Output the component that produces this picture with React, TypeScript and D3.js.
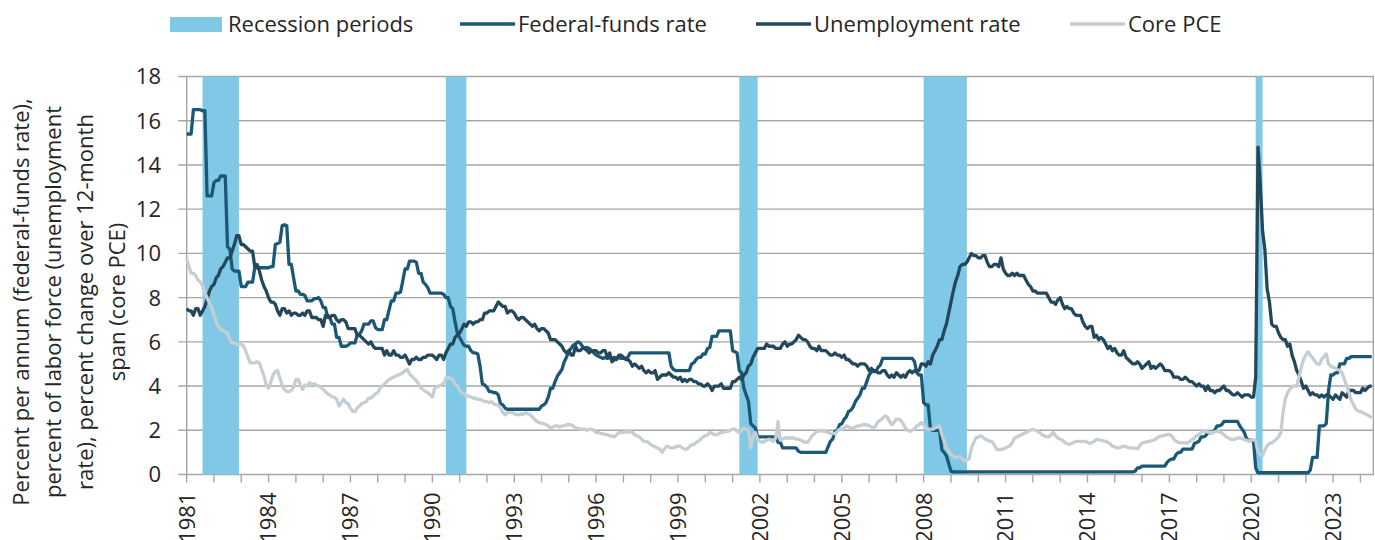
import React from "react";
import * as d3 from "d3";

const width = 1375;
const height = 540;
const plot = { left: 186.7, right: 1374, top: 76.5, bottom: 474.5 };
const font = "'Segoe UI', 'Open Sans', sans-serif";
const fontSize = 22;

const colors = {
  fed: "#1b5876",
  unemp: "#23485c",
  pce: "#c6cdd3",
  recession: "#7fc9e6",
  grid: "#a6a6a6",
  text: "#262626",
};

// monthly values, Jan 1981 .. Jun 2024
const startYear = 1981;

const fedFunds = [
  15.4, 15.4, 15.4, 16.5, 16.5, 16.5, 16.5, 16.45, 16.45, 12.6, 12.6, 12.6, // 1981
  13.2, 13.3, 13.3, 13.5, 13.5, 13.5, 10.3, 10.2, 9.3, 9.2, 9.2, 9.2, // 1982
  8.5, 8.5, 8.5, 8.7, 8.7, 8.7, 9.35, 9.35, 9.35, 9.35, 9.35, 9.35, // 1983
  9.35, 9.4, 9.4, 10.4, 10.45, 10.5, 11.25, 11.3, 11.25, 9.5, 9.5, 8.9, // 1984
  8.3, 8.3, 8.15, 8.15, 8.1, 7.85, 7.85, 7.85, 7.95, 7.95, 8.0, 7.85, // 1985
  7.55, 7.55, 7.1, 7.1, 6.8, 6.8, 6.2, 6.2, 5.8, 5.8, 5.8, 5.85, // 1986
  5.95, 5.95, 5.95, 6.3, 6.35, 6.5, 6.8, 6.8, 6.8, 6.95, 6.95, 6.65, // 1987
  6.55, 6.55, 6.55, 7.0, 7.0, 7.45, 7.85, 7.85, 8.2, 8.2, 8.25, 8.75, // 1988
  9.3, 9.3, 9.65, 9.65, 9.65, 9.6, 9.1, 9.1, 8.7, 8.6, 8.45, 8.2, // 1989
  8.2, 8.2, 8.2, 8.2, 8.2, 8.15, 8.0, 8.0, 7.6, 7.5, 6.9, 6.4, // 1990
  6.2, 6.0, 5.85, 5.8, 5.8, 5.6, 5.5, 5.5, 5.45, 4.9, 4.1, 4.05, // 1991
  3.95, 3.75, 3.75, 3.7, 3.7, 3.6, 3.2, 3.15, 3.0, 2.95, 2.95, 2.95, // 1992
  2.95, 2.95, 2.95, 2.95, 2.95, 2.95, 2.95, 2.95, 2.95, 2.95, 2.95, 2.95, // 1993
  3.1, 3.15, 3.25, 3.5, 3.9, 3.9, 4.2, 4.45, 4.6, 4.75, 5.1, 5.3, // 1994
  5.6, 5.7, 5.85, 5.9, 6.0, 5.95, 5.8, 5.7, 5.75, 5.7, 5.6, 5.5, // 1995
  5.4, 5.35, 5.3, 5.25, 5.3, 5.25, 5.3, 5.25, 5.3, 5.25, 5.3, 5.25, // 1996
  5.25, 5.25, 5.3, 5.5, 5.5, 5.5, 5.5, 5.5, 5.5, 5.5, 5.5, 5.5, // 1997
  5.5, 5.5, 5.5, 5.5, 5.5, 5.5, 5.5, 5.5, 5.5, 4.9, 4.75, 4.7, // 1998
  4.7, 4.7, 4.7, 4.7, 4.7, 4.7, 5.0, 5.05, 5.2, 5.3, 5.3, 5.45, // 1999
  5.45, 5.7, 5.75, 6.25, 6.25, 6.25, 6.5, 6.5, 6.5, 6.5, 6.5, 6.5, // 2000
  5.6, 5.55, 5.5, 4.7, 4.6, 3.9, 3.6, 3.3, 2.3, 2.2, 2.1, 1.7, // 2001
  1.7, 1.7, 1.7, 1.7, 1.7, 1.7, 1.7, 1.7, 1.45, 1.45, 1.2, 1.2, // 2002
  1.2, 1.2, 1.2, 1.2, 1.2, 1.05, 1.0, 1.0, 1.0, 1.0, 1.0, 1.0, // 2003
  1.0, 1.0, 1.0, 1.0, 1.0, 1.0, 1.25, 1.5, 1.6, 1.95, 2.0, 2.25, // 2004
  2.3, 2.5, 2.6, 2.85, 2.9, 3.05, 3.3, 3.45, 3.6, 3.9, 3.9, 4.2, // 2005
  4.5, 4.65, 4.65, 4.65, 4.85, 4.95, 5.25, 5.25, 5.25, 5.25, 5.25, 5.25, // 2006
  5.25, 5.25, 5.25, 5.25, 5.25, 5.25, 5.25, 5.25, 5.1, 4.6, 4.5, 4.5, // 2007
  3.25, 3.15, 3.15, 2.05, 2.0, 2.0, 2.0, 2.0, 1.1, 1.0, 0.85, 0.5, // 2008
  0.15, 0.12, 0.12, 0.12, 0.12, 0.12, 0.12, 0.12, 0.12, 0.12, 0.12, 0.12, // 2009
  0.12, 0.12, 0.12, 0.12, 0.12, 0.12, 0.12, 0.12, 0.12, 0.12, 0.12, 0.12, // 2010
  0.12, 0.12, 0.12, 0.12, 0.12, 0.12, 0.12, 0.12, 0.12, 0.12, 0.12, 0.12, // 2011
  0.12, 0.12, 0.12, 0.12, 0.12, 0.12, 0.12, 0.12, 0.12, 0.12, 0.12, 0.12, // 2012
  0.12, 0.12, 0.12, 0.12, 0.12, 0.12, 0.12, 0.12, 0.12, 0.12, 0.12, 0.12, // 2013
  0.12, 0.12, 0.12, 0.12, 0.12, 0.12, 0.12, 0.12, 0.12, 0.12, 0.12, 0.12, // 2014
  0.12, 0.12, 0.12, 0.12, 0.12, 0.12, 0.12, 0.12, 0.12, 0.15, 0.3, 0.3, // 2015
  0.38, 0.38, 0.38, 0.38, 0.38, 0.38, 0.38, 0.38, 0.38, 0.38, 0.38, 0.55, // 2016
  0.65, 0.7, 0.7, 0.9, 1.0, 1.0, 1.15, 1.15, 1.15, 1.15, 1.15, 1.4, // 2017
  1.45, 1.5, 1.7, 1.7, 1.75, 1.9, 1.9, 1.9, 2.0, 2.2, 2.2, 2.25, // 2018
  2.4, 2.4, 2.4, 2.4, 2.4, 2.4, 2.4, 2.2, 2.05, 1.9, 1.6, 1.55, // 2019
  1.55, 1.5, 0.3, 0.08, 0.08, 0.08, 0.08, 0.08, 0.08, 0.08, 0.08, 0.08, // 2020
  0.08, 0.08, 0.08, 0.08, 0.08, 0.08, 0.08, 0.08, 0.08, 0.08, 0.08, 0.08, // 2021
  0.08, 0.08, 0.2, 0.77, 0.77, 0.77, 2.2, 2.2, 2.2, 2.3, 3.8, 4.5, // 2022
  4.5, 4.6, 4.6, 5.0, 5.0, 5.0, 5.25, 5.25, 5.33, 5.33, 5.33, 5.33, // 2023
  5.33, 5.33, 5.33, 5.33, 5.33, 5.33, // 2024
];

const unemployment = [
  7.5, 7.4, 7.4, 7.2, 7.5, 7.5, 7.2, 7.4, 7.6, 7.9, 8.3, 8.5, // 1981
  8.6, 8.9, 9.0, 9.3, 9.4, 9.6, 9.8, 9.8, 10.1, 10.4, 10.8, 10.8, // 1982
  10.4, 10.4, 10.3, 10.2, 10.1, 10.1, 9.4, 9.5, 9.2, 8.8, 8.5, 8.3, // 1983
  8.0, 7.8, 7.8, 7.7, 7.4, 7.2, 7.5, 7.5, 7.3, 7.4, 7.2, 7.3, // 1984
  7.3, 7.2, 7.2, 7.3, 7.2, 7.4, 7.4, 7.1, 7.1, 7.1, 7.0, 7.0, // 1985
  6.7, 7.2, 7.2, 7.1, 7.2, 7.2, 7.0, 6.9, 7.0, 7.0, 6.9, 6.6, // 1986
  6.6, 6.6, 6.6, 6.3, 6.3, 6.2, 6.1, 6.0, 5.9, 6.0, 5.8, 5.7, // 1987
  5.7, 5.7, 5.7, 5.4, 5.6, 5.4, 5.4, 5.6, 5.4, 5.4, 5.3, 5.3, // 1988
  5.4, 5.2, 5.0, 5.2, 5.2, 5.3, 5.2, 5.2, 5.3, 5.3, 5.4, 5.4, // 1989
  5.4, 5.3, 5.2, 5.4, 5.4, 5.2, 5.5, 5.7, 5.9, 5.9, 6.2, 6.3, // 1990
  6.4, 6.6, 6.8, 6.7, 6.9, 6.9, 6.8, 6.9, 6.9, 7.0, 7.0, 7.3, // 1991
  7.3, 7.4, 7.4, 7.4, 7.6, 7.8, 7.7, 7.6, 7.6, 7.3, 7.4, 7.4, // 1992
  7.3, 7.1, 7.0, 7.1, 7.1, 7.0, 6.9, 6.8, 6.7, 6.8, 6.6, 6.5, // 1993
  6.6, 6.6, 6.5, 6.4, 6.1, 6.1, 6.1, 6.0, 5.9, 5.8, 5.6, 5.5, // 1994
  5.6, 5.4, 5.4, 5.8, 5.6, 5.6, 5.7, 5.7, 5.6, 5.5, 5.6, 5.6, // 1995
  5.6, 5.5, 5.5, 5.6, 5.6, 5.3, 5.5, 5.1, 5.2, 5.2, 5.4, 5.4, // 1996
  5.3, 5.2, 5.2, 5.1, 4.9, 5.0, 4.9, 4.8, 4.9, 4.7, 4.6, 4.7, // 1997
  4.6, 4.6, 4.7, 4.3, 4.4, 4.5, 4.5, 4.5, 4.6, 4.5, 4.4, 4.4, // 1998
  4.3, 4.4, 4.2, 4.3, 4.2, 4.3, 4.3, 4.2, 4.2, 4.1, 4.1, 4.0, // 1999
  4.0, 4.1, 4.0, 3.8, 4.0, 4.0, 4.0, 4.1, 3.9, 3.9, 3.9, 3.9, // 2000
  4.2, 4.2, 4.3, 4.4, 4.3, 4.5, 4.6, 4.9, 5.0, 5.3, 5.5, 5.7, // 2001
  5.7, 5.7, 5.7, 5.9, 5.8, 5.8, 5.8, 5.7, 5.7, 5.7, 5.9, 6.0, // 2002
  5.8, 5.9, 5.9, 6.0, 6.1, 6.3, 6.2, 6.1, 6.1, 6.0, 5.8, 5.7, // 2003
  5.7, 5.6, 5.8, 5.6, 5.6, 5.6, 5.5, 5.4, 5.4, 5.5, 5.4, 5.4, // 2004
  5.3, 5.4, 5.2, 5.2, 5.1, 5.0, 5.0, 4.9, 5.0, 5.0, 5.0, 4.9, // 2005
  4.7, 4.8, 4.7, 4.7, 4.6, 4.6, 4.7, 4.7, 4.5, 4.4, 4.5, 4.4, // 2006
  4.6, 4.5, 4.4, 4.5, 4.4, 4.6, 4.7, 4.6, 4.7, 4.7, 4.7, 5.0, // 2007
  5.0, 4.9, 5.1, 5.0, 5.4, 5.6, 5.8, 6.1, 6.1, 6.5, 6.8, 7.3, // 2008
  7.8, 8.3, 8.7, 9.0, 9.4, 9.5, 9.5, 9.6, 9.8, 10.0, 9.9, 9.9, // 2009
  9.8, 9.8, 9.9, 9.9, 9.6, 9.4, 9.4, 9.5, 9.5, 9.4, 9.8, 9.3, // 2010
  9.1, 9.0, 9.0, 9.1, 9.0, 9.1, 9.0, 9.0, 9.0, 8.8, 8.6, 8.5, // 2011
  8.3, 8.3, 8.2, 8.2, 8.2, 8.2, 8.2, 8.0, 7.8, 7.8, 7.7, 7.9, // 2012
  8.0, 7.7, 7.5, 7.6, 7.5, 7.5, 7.3, 7.2, 7.2, 7.2, 6.9, 6.7, // 2013
  6.6, 6.7, 6.7, 6.2, 6.3, 6.1, 6.2, 6.1, 5.9, 5.7, 5.8, 5.6, // 2014
  5.7, 5.5, 5.4, 5.4, 5.6, 5.3, 5.2, 5.1, 5.0, 5.0, 5.1, 5.0, // 2015
  4.8, 4.9, 5.0, 5.1, 4.8, 4.9, 4.8, 4.9, 5.0, 4.9, 4.7, 4.7, // 2016
  4.7, 4.6, 4.4, 4.4, 4.4, 4.3, 4.3, 4.4, 4.3, 4.2, 4.2, 4.1, // 2017
  4.0, 4.1, 4.0, 4.0, 3.8, 4.0, 3.8, 3.8, 3.7, 3.8, 3.8, 3.9, // 2018
  4.0, 3.8, 3.8, 3.7, 3.6, 3.6, 3.7, 3.6, 3.5, 3.6, 3.6, 3.6, // 2019
  3.5, 3.5, 4.4, 14.8, 13.2, 11.0, 10.2, 8.4, 7.8, 6.8, 6.7, 6.7, // 2020
  6.4, 6.2, 6.1, 6.1, 5.8, 5.9, 5.4, 5.1, 4.7, 4.5, 4.2, 3.9, // 2021
  4.0, 3.8, 3.6, 3.7, 3.6, 3.6, 3.5, 3.6, 3.5, 3.6, 3.6, 3.5, // 2022
  3.4, 3.6, 3.5, 3.4, 3.7, 3.6, 3.5, 3.8, 3.8, 3.8, 3.7, 3.7, // 2023
  3.7, 3.9, 3.8, 3.9, 4.0, 4.0, // 2024
];

const corePCE = [
  9.75, 9.4, 9.1, 9.1, 9.0, 8.8, 8.7, 8.55, 8.2, 8.0, 7.75, 7.55, // 1981
  7.2, 6.9, 6.7, 6.55, 6.5, 6.45, 6.4, 6.1, 5.95, 5.95, 5.9, 5.9, // 1982
  5.9, 5.8, 5.6, 5.3, 5.05, 5.05, 5.05, 5.1, 5.05, 4.75, 4.45, 4.05, // 1983
  3.9, 4.2, 4.5, 4.65, 4.7, 4.35, 4.05, 3.85, 3.75, 3.75, 3.8, 3.95, // 1984
  4.3, 4.3, 4.05, 3.85, 4.05, 4.0, 4.15, 4.05, 4.1, 4.05, 4.0, 3.95, // 1985
  3.85, 3.75, 3.65, 3.6, 3.5, 3.5, 3.4, 3.1, 3.25, 3.4, 3.25, 3.2, // 1986
  3.0, 2.85, 2.85, 3.0, 3.1, 3.2, 3.25, 3.3, 3.45, 3.45, 3.55, 3.65, // 1987
  3.7, 3.9, 4.0, 4.1, 4.2, 4.3, 4.35, 4.4, 4.45, 4.5, 4.55, 4.6, // 1988
  4.7, 4.75, 4.55, 4.45, 4.35, 4.25, 4.1, 3.9, 3.85, 3.75, 3.7, 3.6, // 1989
  3.5, 3.9, 3.95, 4.0, 4.05, 4.1, 4.35, 4.4, 4.35, 4.3, 4.1, 4.0, // 1990
  3.8, 3.7, 3.65, 3.55, 3.55, 3.5, 3.45, 3.45, 3.4, 3.4, 3.35, 3.3, // 1991
  3.3, 3.25, 3.3, 3.2, 3.15, 3.15, 3.0, 2.8, 2.7, 2.8, 2.8, 2.8, // 1992
  2.75, 2.7, 2.7, 2.75, 2.7, 2.8, 2.75, 2.7, 2.6, 2.5, 2.4, 2.35, // 1993
  2.3, 2.3, 2.25, 2.2, 2.1, 2.15, 2.2, 2.2, 2.15, 2.2, 2.2, 2.25, // 1994
  2.25, 2.25, 2.2, 2.1, 2.1, 2.05, 2.05, 2.05, 2.0, 2.05, 2.05, 2.0, // 1995
  1.9, 1.9, 1.85, 1.85, 1.8, 1.8, 1.75, 1.75, 1.7, 1.8, 1.9, 1.9, // 1996
  1.9, 1.95, 1.9, 1.95, 1.9, 1.8, 1.75, 1.7, 1.6, 1.5, 1.5, 1.45, // 1997
  1.35, 1.3, 1.25, 1.2, 1.15, 1.0, 1.15, 1.28, 1.25, 1.2, 1.2, 1.25, // 1998
  1.28, 1.28, 1.2, 1.15, 1.15, 1.25, 1.35, 1.35, 1.45, 1.5, 1.6, 1.7, // 1999
  1.75, 1.8, 1.9, 1.85, 1.8, 1.8, 1.85, 1.9, 1.9, 1.95, 1.95, 2.0, // 2000
  2.05, 2.05, 1.95, 1.9, 2.0, 2.1, 2.05, 2.0, 1.2, 1.75, 1.9, 1.6, // 2001
  1.5, 1.45, 1.5, 1.55, 1.6, 1.55, 1.5, 1.65, 2.4, 1.55, 1.6, 1.65, // 2002
  1.65, 1.65, 1.65, 1.65, 1.6, 1.6, 1.55, 1.5, 1.45, 1.45, 1.6, 1.75, // 2003
  1.85, 1.95, 1.95, 2.0, 1.95, 1.95, 1.9, 1.85, 1.85, 1.85, 1.95, 2.05, // 2004
  2.05, 2.1, 2.2, 2.15, 2.1, 2.1, 2.15, 2.2, 2.2, 2.25, 2.25, 2.25, // 2005
  2.2, 2.15, 2.1, 2.2, 2.4, 2.45, 2.55, 2.65, 2.6, 2.4, 2.25, 2.35, // 2006
  2.5, 2.5, 2.45, 2.3, 2.1, 2.0, 1.95, 2.0, 2.05, 2.2, 2.25, 2.35, // 2007
  2.25, 2.1, 2.05, 2.05, 2.05, 2.1, 2.15, 2.2, 1.8, 1.5, 1.2, 1.05, // 2008
  0.9, 0.85, 0.75, 0.8, 0.8, 0.7, 0.6, 0.65, 0.7, 1.2, 1.45, 1.65, // 2009
  1.7, 1.75, 1.7, 1.6, 1.55, 1.5, 1.5, 1.35, 1.15, 1.13, 1.13, 1.15, // 2010
  1.2, 1.25, 1.3, 1.45, 1.65, 1.7, 1.75, 1.8, 1.85, 1.9, 1.95, 2.0, // 2011
  2.05, 2.0, 1.95, 1.9, 1.8, 1.75, 1.7, 1.7, 1.8, 1.9, 1.75, 1.65, // 2012
  1.6, 1.55, 1.45, 1.4, 1.36, 1.4, 1.45, 1.5, 1.5, 1.5, 1.5, 1.5, // 2013
  1.45, 1.4, 1.45, 1.5, 1.58, 1.58, 1.55, 1.52, 1.5, 1.45, 1.38, 1.28, // 2014
  1.25, 1.2, 1.22, 1.25, 1.28, 1.25, 1.22, 1.2, 1.2, 1.18, 1.17, 1.3, // 2015
  1.43, 1.45, 1.48, 1.5, 1.52, 1.55, 1.6, 1.68, 1.73, 1.75, 1.78, 1.8, // 2016
  1.81, 1.75, 1.6, 1.5, 1.45, 1.43, 1.43, 1.43, 1.43, 1.5, 1.58, 1.65, // 2017
  1.75, 1.81, 1.9, 1.96, 1.95, 1.92, 1.89, 1.9, 1.93, 1.96, 1.92, 1.89, // 2018
  1.8, 1.7, 1.66, 1.6, 1.58, 1.6, 1.65, 1.66, 1.62, 1.58, 1.55, 1.5, // 2019
  1.55, 1.58, 1.5, 1.06, 0.9, 0.85, 1.1, 1.3, 1.4, 1.43, 1.5, 1.6, // 2020
  1.7, 1.9, 2.8, 3.4, 3.7, 3.85, 4.0, 4.0, 4.0, 4.4, 4.85, 5.2, // 2021
  5.4, 5.55, 5.4, 5.28, 5.13, 5.0, 4.98, 5.2, 5.35, 5.45, 5.0, 4.9, // 2022
  4.85, 4.8, 4.75, 4.7, 4.6, 4.3, 4.0, 3.7, 3.35, 3.15, 2.95, 2.87, // 2023
  2.85, 2.8, 2.75, 2.7, 2.65, 2.55, // 2024
];

const recessions = [
  ["1981-08", "1982-12"],
  ["1990-07", "1991-04"],
  ["2001-04", "2001-12"],
  ["2008-01", "2009-08"],
  ["2020-03", "2020-06"],
];

const yTicks = [0, 2, 4, 6, 8, 10, 12, 14, 16, 18];
const labelEvery = 3;

const yTitle = [
  "Percent per annum (federal-funds rate),",
  "percent of labor force (unemployment",
  "rate), percent change over 12-month",
  "span (core PCE)",
];
const yTitleX = [28.5, 61, 93, 125];

const legend = [
  { label: "Recession periods", kind: "rect", color: colors.recession, x: 170 },
  { label: "Federal-funds rate", kind: "line", color: colors.fed, x: 460 },
  { label: "Unemployment rate", kind: "line", color: colors.unemp, x: 756 },
  { label: "Core PCE", kind: "line", color: colors.pce, x: 1070 },
];

const parseMonth = d3.timeParse("%Y-%m");
const monthDate = (i: number) => new Date(startYear, i, 1);

export default function App() {
  const x = d3
    .scaleTime()
    .domain([new Date(1981, 0, 1), new Date(2024, 6, 1)])
    .range([plot.left, plot.right]);
  const y = d3.scaleLinear().domain([0, 18]).range([plot.bottom, plot.top]);

  const path = d3
    .line<number>()
    .x((_, i) => x(monthDate(i)))
    .y((d) => y(d));

  const years = d3.timeYear.range(new Date(1981, 0, 1), new Date(2025, 0, 1));

  const series = [
    { data: fedFunds, color: colors.fed },
    { data: unemployment, color: colors.unemp },
    { data: corePCE, color: colors.pce },
  ];

  return (
    <div style={{ position: "absolute", left: 0, top: 0 }}>
      <svg
        width={width}
        height={height}
        style={{ display: "block", background: "#fff" }}
        fontFamily={font}
      >
        {/* grid */}
        {yTicks.map((t) => (
          <g key={`y${t}`}>
            <line
              x1={plot.left - 8.5}
              x2={plot.right}
              y1={y(t)}
              y2={y(t)}
              stroke={colors.grid}
              strokeWidth={1.4}
            />
            <text
              x={161}
              y={y(t)}
              dy="0.36em"
              textAnchor="end"
              fontSize={fontSize}
              fill={colors.text}
            >
              {t}
            </text>
          </g>
        ))}
        <line
          x1={plot.left}
          x2={plot.left}
          y1={plot.top}
          y2={plot.bottom}
          stroke={colors.grid}
          strokeWidth={1.4}
        />
        <line
          x1={plot.right - 0.7}
          x2={plot.right - 0.7}
          y1={plot.top}
          y2={plot.bottom}
          stroke={colors.grid}
          strokeWidth={1.4}
        />

        {/* recession bands */}
        {recessions.map(([a, b]) => {
          const x0 = x(parseMonth(a)!);
          const x1 = x(parseMonth(b)!);
          return (
            <rect
              key={a}
              x={x0}
              y={plot.top}
              width={x1 - x0}
              height={plot.bottom - plot.top}
              fill={colors.recession}
            />
          );
        })}

        {/* x axis ticks */}
        {years.map((d) => {
          const yr = d.getFullYear();
          const px = x(d);
          return (
            <g key={yr}>
              <line
                x1={px}
                x2={px}
                y1={plot.bottom}
                y2={plot.bottom + 8}
                stroke={colors.grid}
                strokeWidth={1.4}
              />
              {(yr - startYear) % labelEvery === 0 && (
                <text
                  transform={`translate(${px},${plot.bottom + 18}) rotate(-90)`}
                  dy="0.36em"
                  textAnchor="end"
                  fontSize={fontSize}
                  fill={colors.text}
                >
                  {yr}
                </text>
              )}
            </g>
          );
        })}

        {/* series */}
        {series.map((s, i) => (
          <path
            key={i}
            d={path(s.data) || ""}
            fill="none"
            stroke={s.color}
            strokeWidth={3.3}
            strokeLinejoin="round"
          />
        ))}

        {/* y title */}
        {yTitle.map((t, i) => (
          <text
            key={i}
            transform={`translate(${yTitleX[i]},302) rotate(-90)`}
            textAnchor="middle"
            fontSize={fontSize}
            fill={colors.text}
          >
            {t}
          </text>
        ))}

        {/* legend */}
        {legend.map((l) => (
          <g key={l.label}>
            {l.kind === "rect" ? (
              <rect x={l.x} y={17} width={52} height={15} fill={l.color} />
            ) : (
              <line
                x1={l.x}
                x2={l.x + 55}
                y1={24}
                y2={24}
                stroke={l.color}
                strokeWidth={3.5}
              />
            )}
            <text
              x={l.x + (l.kind === "rect" ? 58 : 58)}
              y={31.5}
              fontSize={fontSize}
              fill={colors.text}
            >
              {l.label}
            </text>
          </g>
        ))}
      </svg>
    </div>
  );
}
